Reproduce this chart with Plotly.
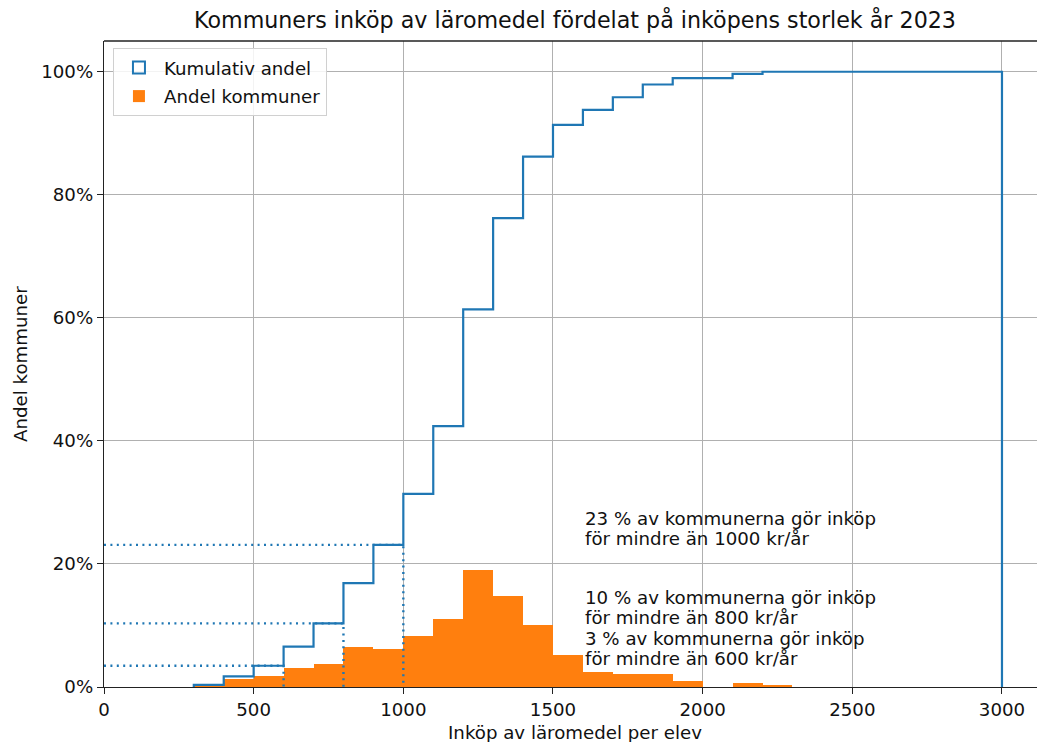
import numpy as np
import plotly.graph_objects as go

# ---- data ----
bin_width = 100
bin_starts = list(range(0, 3000, 100))
andel_kommuner = [0, 0, 0, 0.35, 1.38, 1.72, 3.10, 3.79, 6.55, 6.21,
                  8.28, 11.03, 18.97, 14.83, 10.00, 5.17, 2.41, 2.07, 2.07, 1.03,
                  0, 0.69, 0.35, 0, 0, 0, 0, 0, 0, 0]
thresholds = [600, 800, 1000]
annotation_lines = [
    ("23 % av kommunerna gör inköp", "för mindre än 1000 kr/år"),
    ("10 % av kommunerna gör inköp", "för mindre än 800 kr/år"),
    ("3 % av kommunerna gör inköp", "för mindre än 600 kr/år"),
]
x_ticks = [0, 500, 1000, 1500, 2000, 2500, 3000]
y_ticks = [0, 20, 40, 60, 80, 100]
y_ticklabels = [f"{v}%" for v in y_ticks]

BLUE = "#1f77b4"
ORANGE = "#ff7f0e"
FONT = "DejaVu Sans"
FS = 18.2
TXT = "#111"

starts = np.array(bin_starts, dtype=float)
vals = np.array(andel_kommuner, dtype=float)
centers = starts + bin_width / 2
cum = np.cumsum(vals)
x_end = starts[-1] + bin_width

first = int(np.argmax(vals > 0))
step_x = [starts[first]] + list(starts[first:]) + [x_end, x_end]
step_y = [0] + list(cum[first:]) + [cum[-1], 0]

fig = go.Figure()

# legend-only entry for cumulative (outlined rectangle)
fig.add_trace(go.Bar(x=[None], y=[None], name="Kumulativ andel", legendgroup="a",
                     marker=dict(color="rgba(255,255,255,0)", line=dict(color=BLUE, width=2))))

fig.add_trace(go.Bar(x=centers, y=vals, width=bin_width, name="Andel kommuner", legendgroup="b",
                     marker=dict(color=ORANGE, line=dict(width=0))))

fig.add_trace(go.Scatter(x=step_x, y=step_y, mode="lines", line_shape="hv",
                         line=dict(color=BLUE, width=2.2), showlegend=False,
                         hoverinfo="skip"))

for t in thresholds:
    c = float(cum[starts < t][-1])
    fig.add_trace(go.Scatter(x=[0, t, t], y=[c, c, 0], mode="lines",
                             line=dict(color=BLUE, width=2.4, dash="2px,4.4px"),
                             showlegend=False, hoverinfo="skip"))

# line centres (in % units) for the two-line notes
ann_y = [(27.4, 24.1), (14.5, 11.3), (7.9, 4.6)]
annotations = []
for (l1, l2), (y1, y2) in zip(annotation_lines, ann_y):
    for txt, yy in ((l1, y1), (l2, y2)):
        annotations.append(dict(x=1600, y=yy, xref="x", yref="y", text=txt, showarrow=False,
                                xanchor="left", yanchor="middle", align="left",
                                font=dict(family=FONT, size=FS, color=TXT)))

annotations.append(dict(x=(575 - 104) / 933, y=-0.071, xref="paper", yref="paper",
                        text="Inköp av läromedel per elev", showarrow=False,
                        xanchor="center", yanchor="middle",
                        font=dict(family=FONT, size=FS, color=TXT)))
annotations.append(dict(x=-0.09, y=0.5, xref="paper", yref="paper",
                        text="Andel kommuner", showarrow=False, textangle=-90,
                        xanchor="center", yanchor="middle",
                        font=dict(family=FONT, size=FS, color=TXT)))

W, H = 1037, 742
fig.update_layout(
    width=W, height=H,
    margin=dict(l=104, r=0, t=41, b=55),
    paper_bgcolor="white", plot_bgcolor="white",
    barmode="overlay", bargap=0,
    font=dict(family=FONT, size=FS, color=TXT),
    title=dict(text="Kommuners inköp av läromedel fördelat på inköpens storlek år 2023",
               x=575 / W, xref="container", xanchor="center",
               y=1 - 20 / H, yref="container", yanchor="middle",
               font=dict(family=FONT, size=22.2, color=TXT)),
    legend=dict(x=0.0096, y=0.989, xanchor="left", yanchor="top",
                bgcolor="rgba(255,255,255,0.85)", bordercolor="#d0d0d0", borderwidth=1,
                font=dict(family=FONT, size=FS, color=TXT), traceorder="grouped",
                tracegroupgap=2, itemwidth=40),
    annotations=annotations,
    shapes=[dict(type="line", xref="paper", yref="paper", x0=0, x1=1, y0=1, y1=1,
                 line=dict(color="#222", width=1.3))],
)

fig.update_xaxes(range=[0, 3117], tickvals=x_ticks, showgrid=True, gridcolor="#b0b0b0",
                 gridwidth=1.2, showline=True, linecolor="#222", linewidth=1.3, mirror=False,
                 ticks="outside", ticklen=6, tickwidth=1.2, tickcolor="#222", zeroline=False,
                 tickfont=dict(family=FONT, size=FS, color=TXT))
fig.update_yaxes(range=[0, 105], tickvals=y_ticks, ticktext=y_ticklabels, showgrid=True,
                 gridcolor="#b0b0b0", gridwidth=1.2, showline=True, linecolor="#222",
                 linewidth=1.3, ticks="outside", ticklen=6, tickwidth=1.2, tickcolor="#222",
                 zeroline=False, tickfont=dict(family=FONT, size=FS, color=TXT))

fig.write_html("out.html", config={"displayModeBar": False},
               post_script="document.body.style.margin='0';document.body.style.overflow='hidden';")
